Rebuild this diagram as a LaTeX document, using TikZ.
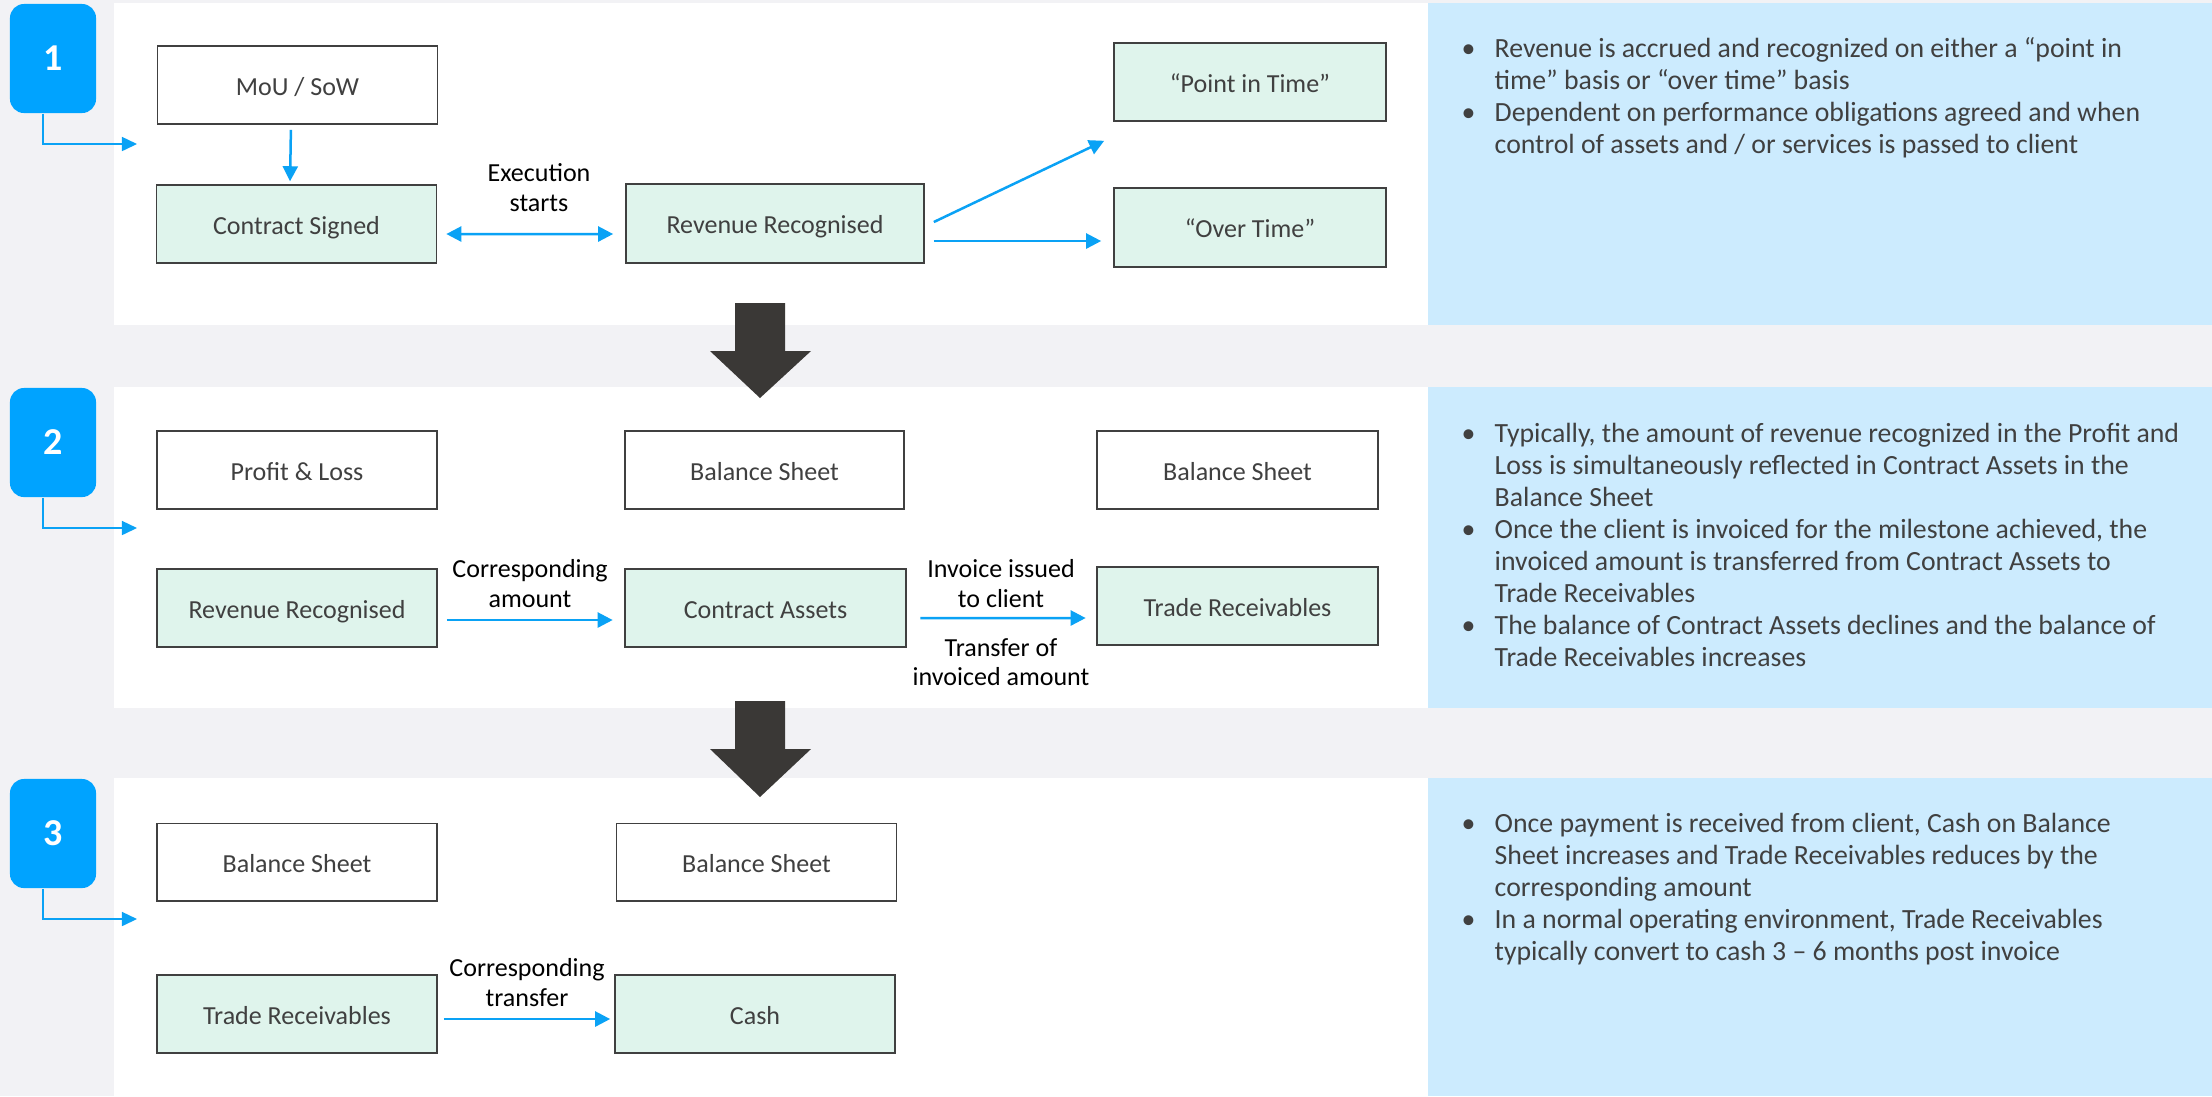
\documentclass[tikz,border=0pt]{standalone}
\usepackage{fontspec}
\setmainfont{Carlito}
\usetikzlibrary{arrows.meta}
\definecolor{bgc}{HTML}{F2F2F5}
\definecolor{panelblue}{HTML}{CCEBFE}
\definecolor{mint}{HTML}{DFF4EC}
\definecolor{badgeblue}{HTML}{00A3FF}
\definecolor{flowblue}{HTML}{0AA2F5}
\definecolor{boxline}{HTML}{404040}
\definecolor{txtgray}{HTML}{404040}
\definecolor{darkarrow}{HTML}{3A3836}
\newcommand{\boxfont}{\fontsize{7.4pt}{8.3pt}\selectfont}
\newcommand{\bodyfont}{\fontsize{7.9pt}{9.1pt}\selectfont}
\newcommand{\badgefont}{\fontsize{10.8pt}{12pt}\selectfont\bfseries}
\begin{document}
\begin{tikzpicture}[x=0.01cm, y=-0.01cm,
  box/.style={draw=boxline, line width=0.015cm, minimum width=2.8cm, minimum height=0.78cm,
    inner sep=0, text=txtgray, font=\boxfont, text height=1.55ex, text depth=0.35ex,
    path picture={\draw[boxline, line width=0.03cm] (path picture bounding box.south west) -- (path picture bounding box.south east);}},
  gbox/.style={box, fill=mint},
  wbox/.style={box, fill=white},
  flow/.style={draw=flowblue, line width=0.025cm, -{Triangle[length=0.15cm,width=0.15cm]}},
  flowboth/.style={draw=flowblue, line width=0.025cm, {Triangle[length=0.15cm,width=0.15cm]}-{Triangle[length=0.15cm,width=0.15cm]}},
  bconn/.style={draw=flowblue, line width=0.015cm, -{Triangle[length=0.15cm,width=0.14cm]}},
  badge/.style={fill=badgeblue, rounded corners=0.14cm, minimum width=0.86cm, minimum height=1.09cm,
    inner sep=0, text=white, font=\badgefont},
  lbl/.style={align=center, font=\boxfont, text=black, inner sep=0},
  rtxt/.style={anchor=base west, inner sep=0, font=\bodyfont, text=txtgray}]
\useasboundingbox (0,0) rectangle (2212,1096);
% backgrounds
\fill[bgc] (0,0) rectangle (2212,1096);
\fill[white] (114,3) rectangle (1428,325);
\fill[white] (114,387) rectangle (1428,708);
\fill[white] (114,778) rectangle (1428,1096);
\fill[panelblue] (1428,3) rectangle (2212,325);
\fill[panelblue] (1428,387) rectangle (2212,708);
\fill[panelblue] (1428,778) rectangle (2212,1096);
% big arrows
\fill[darkarrow] (735,303) -- (785,303) -- (785,351) -- (811,351) -- (760,398) -- (710,351) -- (735,351) -- cycle;
\fill[darkarrow] (735,701) -- (785,701) -- (785,749) -- (811,749) -- (760,797) -- (710,749) -- (735,749) -- cycle;
% badges
\node[badge] (b1) at (53,58.5) {1};
\node[badge] (b2) at (53,442.5) {2};
\node[badge] (b3) at (53,833.5) {3};
\coordinate (t1) at (137,144);
\coordinate (t2) at (137,528);
\coordinate (t3) at (137,919);
\draw[bconn] ([xshift=-0.1cm]b1.south) |- (t1);
\draw[bconn] ([xshift=-0.1cm]b2.south) |- (t2);
\draw[bconn] ([xshift=-0.1cm]b3.south) |- (t3);
% panel 1
\node[wbox] (mou) at (297.5,85) {MoU / SoW};
\node[gbox] (cs) at (296.5,224) {Contract Signed};
\node[gbox, minimum width=2.98cm, minimum height=0.79cm] (rr1) at (775,223.5) {Revenue Recognised};
\node[gbox, minimum width=2.72cm] (pit) at (1250,82) {“Point in Time”};
\node[gbox, minimum width=2.72cm, minimum height=0.79cm] (ot) at (1250,227.5) {“Over Time”};
\draw[flow, shorten <=0.05cm, shorten >=0.03cm] ([xshift=-0.065cm]mou.south) -- ([xshift=-0.065cm]cs.north);
\draw[flowboth, shorten <=0.09cm, shorten >=0.12cm] ([yshift=-0.1cm]cs.east) -- ([yshift=-0.105cm]rr1.west);
\node[lbl] (lexec) at (539,187.5) {Execution\\starts};
\coordinate (a1) at ([xshift=0.09cm,yshift=-0.175cm]rr1.east);
\coordinate (a2) at ([xshift=0.09cm,yshift=0.015cm]rr1.east);
\coordinate (a2e) at ([xshift=-0.09cm,yshift=-0.19cm]pit.south west);
\draw[flow] (a2) -- (a2e);
\draw[flow, shorten >=0.12cm] (a1) -- (a1 -| ot.west);
% panel 2
\node[wbox] (pl) at (297,470) {Profit \& Loss};
\node[wbox, minimum width=2.79cm] (bs2a) at (764.5,470) {Balance Sheet};
\node[wbox, minimum width=2.81cm] (bs2b) at (1237.5,470) {Balance Sheet};
\node[gbox] (rr2) at (297,608) {Revenue Recognised};
\node[gbox, minimum width=2.81cm] (ca) at (765.5,608) {Contract Assets};
\node[gbox, minimum width=2.81cm] (tr2) at (1237.5,606) {Trade Receivables};
\draw[flow, shorten <=0.09cm, shorten >=0.115cm] ([yshift=-0.12cm]rr2.east) -- ([yshift=-0.12cm]ca.west);
\draw[flow, shorten <=0.135cm, shorten >=0.105cm] ([yshift=-0.1cm]ca.east) -- ([yshift=-0.12cm]tr2.west);
\node[lbl] (lcorr1) at (530,583.5) {Corresponding\\amount};
\node[lbl] (linv) at (1001,583.5) {Invoice issued\\to client};
\node[lbl] (ltrans) at (1001,662.5) {Transfer of\\invoiced amount};
% panel 3
\node[wbox] (bs3a) at (297,862.5) {Balance Sheet};
\node[wbox] (bs3b) at (756.5,862.5) {Balance Sheet};
\node[gbox] (tr3) at (297,1014) {Trade Receivables};
\node[gbox] (cash) at (755,1014) {Cash};
\draw[flow, shorten <=0.06cm, shorten >=0.04cm] ([yshift=-0.05cm]tr3.east) -- ([yshift=-0.05cm]cash.west);
\node[lbl] (lcorr2) at (527,982.5) {Corresponding\\transfer};
% right texts
\node[rtxt] (r1) at (1461,57) {\begin{tabular}[t]{@{}p{0.33cm}@{}l@{}}
\textbullet & Revenue is accrued and recognized on either a “point in\\
 & time” basis or “over time” basis\\
\textbullet & Dependent on performance obligations agreed and when\\
 & control of assets and / or services is passed to client
\end{tabular}};
\node[rtxt] (r2) at (1461,442) {\begin{tabular}[t]{@{}p{0.33cm}@{}l@{}}
\textbullet & Typically, the amount of revenue recognized in the Profit and\\
 & Loss is simultaneously reflected in Contract Assets in the\\
 & Balance Sheet\\
\textbullet & Once the client is invoiced for the milestone achieved, the\\
 & invoiced amount is transferred from Contract Assets to\\
 & Trade Receivables\\
\textbullet & The balance of Contract Assets declines and the balance of\\
 & Trade Receivables increases
\end{tabular}};
\node[rtxt] (r3) at (1461,832) {\begin{tabular}[t]{@{}p{0.33cm}@{}l@{}}
\textbullet & Once payment is received from client, Cash on Balance\\
 & Sheet increases and Trade Receivables reduces by the\\
 & corresponding amount\\
\textbullet & In a normal operating environment, Trade Receivables\\
 & typically convert to cash 3 – 6 months post invoice
\end{tabular}};
\end{tikzpicture}
\end{document}
